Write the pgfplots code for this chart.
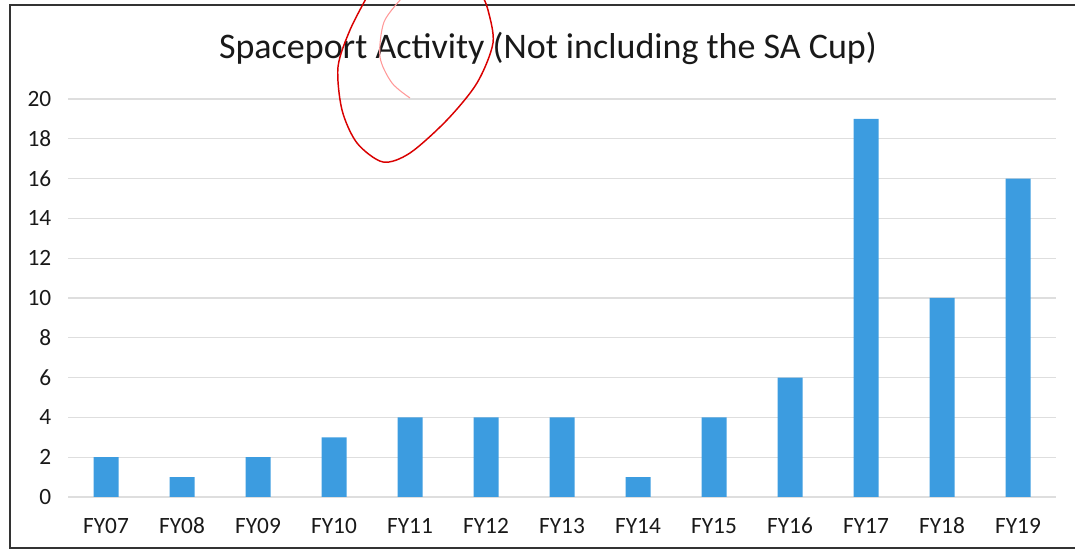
\documentclass[border=0pt]{standalone}
\usepackage{fontspec}
\setmainfont{Carlito}
\usepackage{pgfplots}
\pgfplotsset{compat=1.18}
\definecolor{barblue}{RGB}{60,156,224}
\definecolor{gridgray}{RGB}{222,222,222}
\definecolor{txt}{RGB}{25,25,25}
\begin{document}
\begin{tikzpicture}
\path[use as bounding box] (0,0) rectangle (806.25pt,417pt);
\begin{axis}[
  at={(51pt,44.25pt)}, anchor=south west,
  scale only axis, width=741pt, height=298.5pt,
  xmin=-0.5, xmax=12.5, ymin=0, ymax=20,
  axis line style={draw=none},
  major tick length=0pt,
  ytick={0,2,...,20},
  xtick={0,...,12},
  xticklabels={FY07,FY08,FY09,FY10,FY11,FY12,FY13,FY14,FY15,FY16,FY17,FY18,FY19},
  ymajorgrids, grid style={gridgray, line width=0.8pt},
  /pgf/number format/assume math mode=true,
  tick label style={font=\fontsize{17.5}{20}\selectfont, text=txt},
  yticklabel style={xshift=-9pt},
  xticklabel style={anchor=base, yshift=-27.5pt},
  clip=false,
]
\addplot[ybar, bar width=18.75pt, fill=barblue, draw=none] coordinates {
(0,2) (1,1) (2,2) (3,3) (4,4) (5,4) (6,4) (7,1) (8,4) (9,6) (10,19) (11,10) (12,16)};
\end{axis}
\begin{scope}[x=0.75pt,y=-0.75pt,yshift=417pt]
\node[anchor=base, text=txt, font=\fontsize{27}{31}\selectfont] at (548,59) {Spaceport Activity (Not including the SA Cup)};
\draw[line width=1.9pt, black!80] (1080,5) -- (10,5) -- (10,548) -- (1080,548);
\draw[red!85!black, line width=1.1pt, smooth] plot coordinates {(368,-5) (350,30) (338,67) (342,110) (357,143) (383,162) (410,153) (447,120) (477,83) (493,43) (488,10) (482,-5)};
\draw[red!40, line width=0.8pt, smooth] plot coordinates {(402,-2) (384,22) (380,57) (392,83) (410,98)};
\end{scope}
\end{tikzpicture}
\end{document}
